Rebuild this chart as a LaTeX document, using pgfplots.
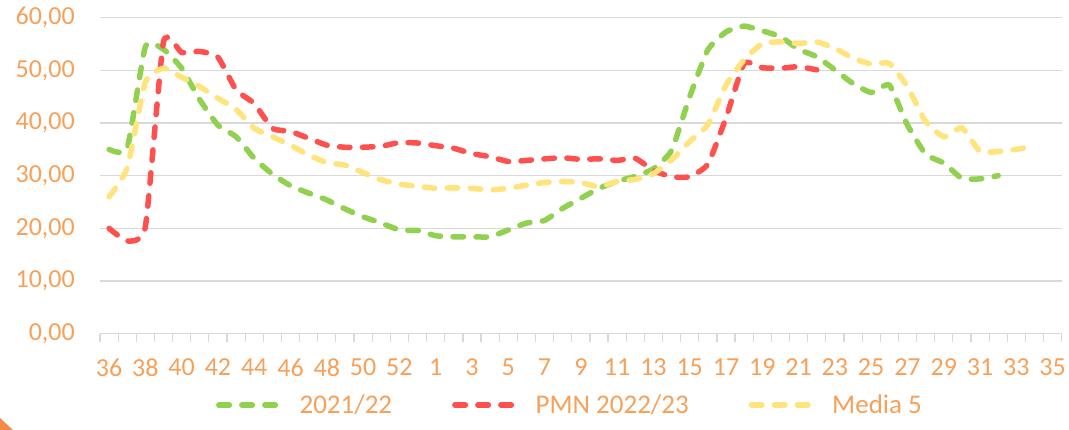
\documentclass[border=0pt]{standalone}
\usepackage{pgfplots}
\pgfplotsset{compat=1.18}
\usepackage{fontspec}
\setmainfont{Carlito}
\definecolor{txt}{RGB}{247,160,90}
\definecolor{cgreen}{RGB}{146,208,80}
\definecolor{cred}{RGB}{255,80,80}
\definecolor{cyellow}{RGB}{255,228,125}
\definecolor{gridc}{RGB}{217,217,217}
\definecolor{corner}{RGB}{244,140,70}
\begin{document}
\begin{tikzpicture}[x=1pt,y=1pt]
\path[use as bounding box] (0,0) rectangle (1069,430);
\fill[corner] (0,12) -- (0,0) -- (13,0) -- cycle;
\begin{axis}[
  at={(100pt,96.3pt)}, anchor=south west,
  scale only axis, width=961.7pt, height=316pt,
  xmin=-0.5, xmax=52.5, ymin=0, ymax=60,
  axis line style={draw=none},
  ytick={0,10,...,60},
  yticklabels={{0,00},{10,00},{20,00},{30,00},{40,00},{50,00},{60,00}},
  ymajorgrids=true, xmajorgrids=false, xminorgrids=false,
  y grid style={color=gridc, line width=1.2pt},
  xtick={0,2,...,52},
  xticklabels={36,38,40,42,44,46,48,50,52,1,3,5,7,9,11,13,15,17,19,21,23,25,27,29,31,33,35},
  minor xtick={-0.5,0.5,...,52.5},
  tick pos=left, tick align=outside,
  major tick length=0pt, minor tick length=8pt,
  minor tick style={color=gridc, line width=1.2pt},
  every tick label/.append style={font=\fontsize{26}{30}\selectfont, text=txt, inner sep=0pt},
  yticklabel style={anchor=east, xshift=-25pt},
  xticklabel style={anchor=north, yshift=-25pt},
  clip=false,
  legend columns=3,
  legend style={draw=none, fill=none, at={(0.4887,-0.2256)}, anchor=center,
    font=\fontsize{27}{30}\selectfont, text=txt,
    /tikz/every even column/.append style={column sep=58pt},
    /tikz/every odd column/.append style={column sep=12pt},
    inner sep=0pt},
  legend image code/.code={\draw[#1] (0pt,0pt) -- (64pt,0pt);},
  every axis plot/.append style={line width=5.5pt, line cap=round, dash pattern=on 10.5pt off 12.5pt, smooth, tension=0.3},
]
\addplot[cgreen] coordinates {
(0,35.0) (1,35.2) (2,54.5) (3,54.0) (4,50.4) (5,44.4) (6,39.6) (7,37.4) (8,33.3) (9,30.3)
(10,28.1) (11,26.7) (12,25.4) (13,23.7) (14,22.2) (15,21.0) (16,19.7) (17,19.6) (18,18.6) (19,18.4)
(20,18.4) (21,18.4) (22,19.7) (23,21.0) (24,21.5) (25,23.8) (26,25.7) (27,27.6) (28,28.9) (29,29.9)
(30,31.3) (31,34.8) (32,45.0) (33,53.9) (34,57.3) (35,58.4) (36,57.5) (37,56.4) (38,54.0) (39,52.6)
(40,50.1) (41,47.5) (42,45.8) (43,47.2) (44,39.6) (45,34.1) (46,32.4) (47,29.5) (48,29.4) (49,30.0)
};
\addlegendentry{2021/22}
\addplot[cred] coordinates {
(0,20.0) (1,17.6) (2,20.3) (3,55.4) (4,53.4) (5,53.6) (6,52.5) (7,46.3) (8,43.7) (9,39.0)
(10,38.4) (11,37.1) (12,35.8) (13,35.4) (14,35.4) (15,35.6) (16,36.3) (17,36.2) (18,35.7) (19,35.2)
(20,34.2) (21,33.6) (22,32.7) (23,32.9) (24,33.2) (25,33.4) (26,33.1) (27,33.2) (28,32.9) (29,33.3)
(30,31.0) (31,29.8) (32,29.8) (33,32.2) (34,41.0) (35,51.3) (36,50.5) (37,50.4) (38,50.7) (39,50.1)
};
\addlegendentry{PMN 2022/23}
\addplot[cyellow] coordinates {
(0,26.0) (1,31.5) (2,47.8) (3,50.4) (4,48.7) (5,46.9) (6,44.7) (7,42.6) (8,39.0) (9,37.4)
(10,35.8) (11,33.9) (12,32.5) (13,32.0) (14,30.6) (15,29.2) (16,28.4) (17,28.0) (18,27.6) (19,27.7)
(20,27.6) (21,27.3) (22,27.6) (23,28.2) (24,28.7) (25,28.9) (26,28.7) (27,27.9) (28,28.9) (29,29.3)
(30,30.4) (31,33.0) (32,36.5) (33,39.7) (34,47.2) (35,52.0) (36,55.1) (37,55.4) (38,55.1) (39,55.4)
(40,54.2) (41,52.3) (42,51.2) (43,51.3) (44,46.9) (45,40.3) (46,37.4) (47,39.1) (48,34.6) (49,34.6)
(50,35.0) (51,35.7)
};
\addlegendentry{Media 5}
\end{axis}
\end{tikzpicture}
\end{document}
